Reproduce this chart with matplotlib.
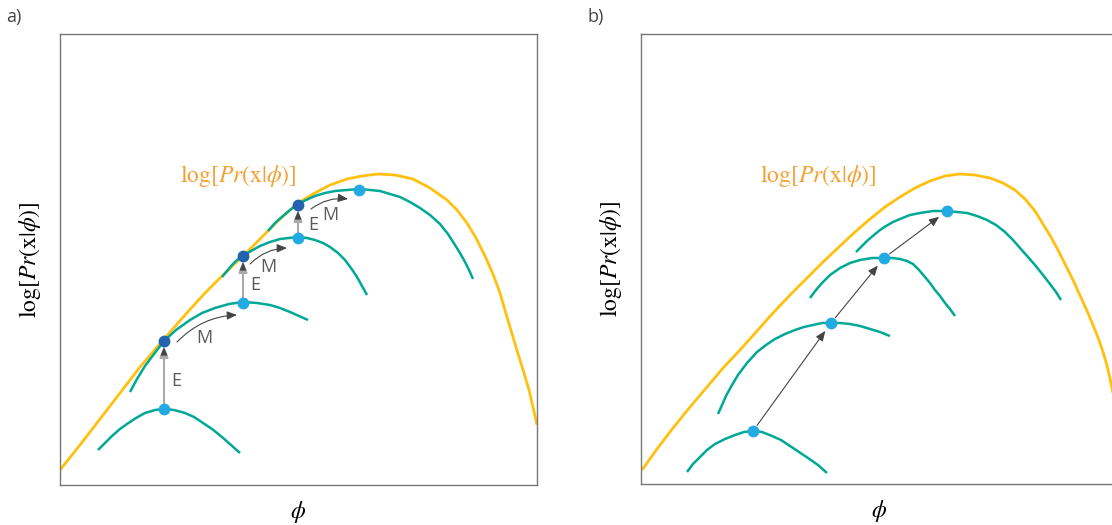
import numpy as np
import matplotlib
matplotlib.use('Agg')
import matplotlib.pyplot as plt

plt.rcParams['mathtext.fontset'] = 'stix'

# Colours
YELLOW = '#FFC010'
TEAL = '#00A896'
LIGHT = '#22AAE2'
DARK = '#2363AE'
ORANGE = '#F5A030'

# Panel a (in picture units)
a_lik_x = [60, 80, 100, 120, 140, 164, 185, 205, 225, 243, 260, 280, 298, 313, 330, 347, 362,
           378, 395, 413, 430, 447, 457, 467, 476, 485, 493, 500, 507, 513, 519, 524, 529, 533, 537]
a_lik_y = [470, 445, 419, 393, 367, 339, 315, 293, 273, 256, 239, 219, 203, 194, 185, 179, 176,
           174, 175, 179, 188, 200, 210, 223, 238, 256, 274, 293, 317, 337, 357, 373, 390, 407, 425]

a_bounds = [
    ([98, 105, 112, 120, 127, 136, 145, 155, 164, 174, 185, 194, 203, 212, 222, 231, 240],
     [450, 443, 436, 429, 424, 418, 413, 410, 409, 410, 413, 417, 423, 429, 437, 445, 453]),
    ([130, 137, 145, 154, 164, 176, 190, 202, 215, 229, 243, 257, 270, 280, 290, 299, 308],
     [392, 379, 366, 354, 341, 330, 320, 313, 308, 304, 302, 303, 305, 308, 312, 316, 320]),
    ([222, 227, 232, 237, 243, 251, 260, 270, 280, 289, 298, 307, 315, 323, 330, 338, 345, 351,
      357, 362, 367],
     [277, 271, 265, 260, 256, 251, 246, 242, 239, 238, 237, 238, 240, 243, 247, 253, 260, 268,
      277, 286, 295]),
    ([268, 275, 283, 290, 298, 306, 315, 325, 335, 347, 359, 370, 380, 390, 400, 410, 420, 430,
      440, 448, 455, 460, 465, 469, 473],
     [231, 223, 216, 210, 204, 200, 196, 193, 191, 190, 189, 190, 191, 194, 197, 202, 208, 215,
      224, 234, 245, 253, 262, 270, 279]),
]
a_light_x = [164, 243, 298, 359]
a_light_y = [409, 303, 238, 190]
a_dark_x = [164, 243, 298]
a_dark_y = [341, 256, 205]
# M arrows: start and end
a_m_start = [(177, 342), (250, 264), (311, 209)]
a_m_end = [(237, 315), (287, 248), (348, 199)]
a_e_label = [(176, 381), (255, 285), (313, 225)]
a_m_label = [(204, 338), (268, 267), (330, 215)]

# Panel b
b_lik_x = [642, 657, 673, 690, 707, 723, 740, 757, 773, 790, 807, 823, 840, 855, 870, 885, 900,
           915, 930, 945, 960, 975, 990, 1003, 1015, 1025, 1035, 1043, 1051, 1058, 1065, 1073,
           1078, 1083, 1088, 1093, 1097, 1100, 1103, 1106, 1109, 1112, 1115, 1118]
b_lik_y = [470, 449, 428, 407, 387, 368, 350, 331, 313, 295, 278, 262, 246, 232, 219, 207, 197,
           188, 181, 176, 174, 175, 178, 183, 190, 199, 211, 224, 237, 250, 264, 280,
           291, 302, 313, 325, 335, 343, 352, 362, 374, 388, 403, 419]

b_bounds = [
    ([687, 693, 700, 707, 715, 725, 735, 744, 753, 762, 772, 781, 790, 799, 808, 818, 827],
     [472, 464, 457, 450, 444, 439, 435, 432, 431, 432, 436, 440, 446, 452, 458, 465, 473]),
    ([718, 722, 726, 732, 738, 747, 757, 766, 775, 785, 795, 804, 813, 822, 831, 840, 850, 860,
      870, 880, 890],
     [414, 405, 396, 385, 375, 363, 352, 345, 339, 334, 330, 327, 325, 323, 323, 323, 324, 326,
      329, 332, 336]),
    ([810, 816, 822, 830, 840, 850, 860, 872, 884, 892, 900, 907, 913, 919, 925, 930, 935, 940,
      945, 950, 955],
     [298, 290, 283, 275, 268, 263, 260, 258, 258, 258, 259, 261, 264, 270, 277, 283, 290, 296,
      303, 309, 316]),
    ([856, 862, 868, 874, 880, 886, 893, 900, 910, 920, 933, 947, 957, 967, 977, 987, 996, 1005,
      1013, 1020, 1028, 1035, 1043, 1050, 1056, 1061],
     [252, 246, 240, 235, 230, 226, 222, 219, 215, 213, 211, 211, 212, 213, 216, 220, 225, 232,
      240, 248, 257, 265, 275, 284, 292, 300]),
]
b_light_x = [753, 831, 884, 947]
b_light_y = [431, 323, 258, 211]

label = r'$\mathrm{log}[Pr(\mathrm{x}|\phi)]$'

fig = plt.figure(figsize=(11.12, 5.25), dpi=100)
ax_a = fig.add_axes([60 / 1112, 40 / 525, 477 / 1112, 451 / 525])
ax_b = fig.add_axes([641 / 1112, 41 / 525, 477 / 1112, 450 / 525])

ax_a.set_xlim(60, 537)
ax_a.set_ylim(485, 34)
ax_b.set_xlim(641, 1118)
ax_b.set_ylim(484, 34)

for ax in (ax_a, ax_b):
    ax.set_xticks([])
    ax.set_yticks([])
    for s in ax.spines.values():
        s.set_color('#777777')
        s.set_linewidth(1.0)
    ax.set_xlabel(r'$\phi$', fontsize=17, labelpad=10)
    ax.set_ylabel(label, fontsize=17, labelpad=12)

head = '-|>,head_length=0.6,head_width=0.25'

# panel a
ax_a.plot(a_lik_x, a_lik_y, color=YELLOW, lw=2.0, solid_capstyle='butt', solid_joinstyle='round')
for bx, by in a_bounds:
    ax_a.plot(bx, by, color=TEAL, lw=1.8, solid_capstyle='butt', solid_joinstyle='round')

for i in range(len(a_dark_x)):
    ax_a.annotate('', xy=(a_dark_x[i], a_dark_y[i] + 6), xytext=(a_light_x[i], a_light_y[i]),
                  arrowprops=dict(arrowstyle=head, color='#aaaaaa', lw=1.5,
                                  shrinkA=0, shrinkB=0))
    ax_a.annotate('', xy=(a_dark_x[i], a_dark_y[i] + 6), xytext=(a_dark_x[i], a_dark_y[i] + 14),
                  arrowprops=dict(arrowstyle=head, color='#444444', lw=0.1,
                                  shrinkA=0, shrinkB=0))
    ax_a.annotate('', xy=a_m_end[i], xytext=a_m_start[i],
                  arrowprops=dict(arrowstyle=head, color='#444444', lw=0.8,
                                  shrinkA=0, shrinkB=0, connectionstyle='arc3,rad=-0.2'))
    ax_a.text(*a_e_label[i], 'E', fontsize=13, color='#5a5a5a', family='Open Sans',
              ha='center', va='center')
    ax_a.text(*a_m_label[i], 'M', fontsize=13, color='#5a5a5a', family='Open Sans',
              ha='center', va='center')

ax_a.plot(a_light_x, a_light_y, 'o', color=LIGHT, ms=8.5, mec='none', zorder=5)
ax_a.plot(a_dark_x, a_dark_y, 'o', color=DARK, ms=8.5, mec='none', zorder=5)
ax_a.text(238, 176, label, fontsize=17, color=ORANGE, ha='center', va='center')

# panel b
ax_b.plot(b_lik_x, b_lik_y, color=YELLOW, lw=2.0, solid_capstyle='butt', solid_joinstyle='round')
for bx, by in b_bounds:
    ax_b.plot(bx, by, color=TEAL, lw=1.8, solid_capstyle='butt', solid_joinstyle='round')
for i in range(len(b_light_x) - 1):
    ax_b.annotate('', xy=(b_light_x[i + 1], b_light_y[i + 1]), xytext=(b_light_x[i], b_light_y[i]),
                  arrowprops=dict(arrowstyle=head, color='#444444', lw=0.8, shrinkA=5, shrinkB=7))
ax_b.plot(b_light_x, b_light_y, 'o', color=LIGHT, ms=8.5, mec='none', zorder=5)
ax_b.text(818, 176, label, fontsize=17, color=ORANGE, ha='center', va='center')

fig.text(14 / 1112, 1 - 17 / 525, 'a)', fontsize=13, color='#444444', family='Open Sans',
         ha='center', va='center')
fig.text(596 / 1112, 1 - 17 / 525, 'b)', fontsize=13, color='#444444', family='Open Sans',
         ha='center', va='center')

fig.savefig('out.png', dpi=100)
